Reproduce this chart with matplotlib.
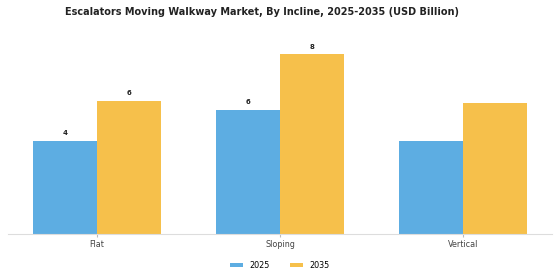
import matplotlib
matplotlib.use("Agg")
import matplotlib.pyplot as plt
import numpy as np

# ── Data ─────────────────────────────────────────────────────────────────────
categories = ["Flat", "Sloping", "Vertical"]
years = ["2025", "2035"]
values_2025 = [4.24, 5.66, 4.25]
values_2035 = [6.06, 8.16, 5.94]
show_label = [True, True, False]

BLUE = "#5DADE2"
YELLOW = "#F6C04B"
DARK = "#222222"

fig = plt.figure(figsize=(5.6, 2.8), dpi=100, facecolor="white")
ax = fig.add_axes([0.0143, 0.163, 0.9714, 0.677])

x = np.arange(len(categories))
w = 0.35
b1 = ax.bar(x - w / 2, values_2025, width=w, color=BLUE, label=years[0])
b2 = ax.bar(x + w / 2, values_2035, width=w, color=YELLOW, label=years[1])

for bars in (b1, b2):
    for bar, show in zip(bars, show_label):
        if show:
            ax.text(bar.get_x() + bar.get_width() / 2, bar.get_height() + 0.2,
                    f"{bar.get_height():.0f}", ha="center", va="bottom",
                    fontsize=5, fontweight="bold", color=DARK)

ax.set_ylim(0, 8.6)
ax.set_xticks(x)
ax.set_xticklabels(categories, fontsize=5.8, color="#444444")
ax.tick_params(axis="x", length=2, color="#BBBBBB", pad=2)
ax.set_yticks([])
ax.spines[["top", "right", "left"]].set_visible(False)
ax.spines["bottom"].set_color("#DDDDDD")
ax.spines["bottom"].set_linewidth(0.8)

fig.suptitle("Escalators Moving Walkway Market, By Incline, 2025-2035 (USD Billion)",
             fontsize=7, fontweight="bold", color=DARK, x=0.467, y=0.975)

fig.legend(loc="lower center", bbox_to_anchor=(0.5, 0.01), ncol=2, frameon=False,
           fontsize=5.8, handlelength=1.6, handleheight=0.5, columnspacing=2.5,
           handletextpad=0.8)

plt.savefig("out.png", dpi=100, facecolor="white")
